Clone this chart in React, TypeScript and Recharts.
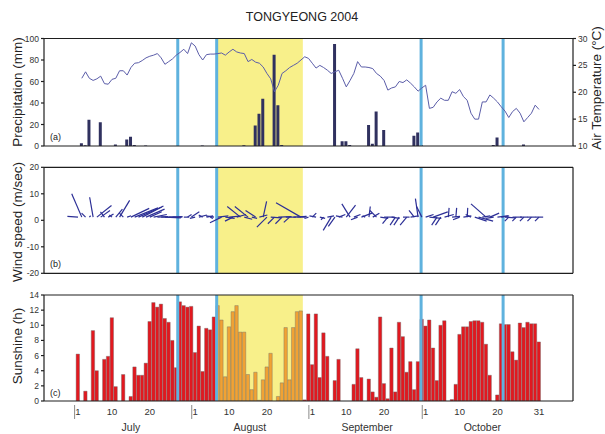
import React from 'react';
import { ComposedChart, Bar, Line, XAxis, YAxis, ReferenceArea, ReferenceLine, Cell } from 'recharts';

// ---- data (day index 0 = 1 July 2004) ----
const sunshine = [
  6.2, 0, 1.3, 0, 9.3, 4.0, 0, 5.5, 5.9, 11.0,
  1.9, 0, 3.5, 0, 0.6, 4.5, 3.4, 3.4, 5.0, 10.5,
  13.0, 12.4, 12.8, 10.9, 10.4, 8.0, 4.4, 13.1, 12.6, 12.4,
  12.5, 6.4, 9.9, 3.9, 9.6, 9.4, 11.1, 12.6, 10.7, 3.2,
  9.8, 11.8, 12.6, 9.1, 9.1, 3.5, 1.5, 3.8, 0.1, 2.8,
  4.5, 6.3, 0, 0.6, 2.4, 9.7, 2.8, 9.7, 11.8, 11.9,
  0.15, 11.5, 4.8, 11.5, 3.1, 9.0, 5.9, 0, 2.7, 5.5,
  0, 0, 0, 2.2, 6.9, 3.1, 0, 2.9, 1.2, 0.5,
  11.1, 2.3, 0.3, 7.0, 1.2, 10.4, 8.5, 3.8, 5.2, 1.5,
  5.2, 10.8, 9.9, 10.7, 7.0, 2.7, 10.0, 10.6, 0, 0.2,
  2.2, 8.8, 9.8, 9.8, 10.5, 10.6, 10.6, 10.4, 7.5, 3.4,
  0, 0.8, 10.2, 10.1, 10.1, 6.5, 5.4, 10.3, 9.7, 10.4,
  10.2, 10.2, 7.8,
];

const precipitation = [
  0, 2.5, 0.8, 24.5, 0, 0, 22, 0, 0, 0,
  1.5, 0, 0, 6, 8.5, 1, 0, 0, 0.5, 0,
  0, 0, 0, 0, 0, 0, 0, 0, 0, 0,
  0, 0, 0, 0.5, 0, 0, 0, 0, 0, 0,
  0, 0, 0, 0, 0.7, 0, 0, 19, 30, 44,
  0, 0, 85, 38, 1, 0, 0, 0, 0, 0,
  0, 0, 0, 0, 0, 0, 0, 0, 95, 0,
  4.5, 4.5, 1, 0, 0, 0, 0, 19.5, 2, 32,
  0, 15, 0, 0, 0, 0, 0, 0, 0, 9.5,
  12.5, 1, 0, 0, 0, 0, 0, 0, 0, 0,
  0, 0, 0, 0, 0, 0, 0, 0, 0, 0,
  1, 8, 0, 0, 0, 0, 0, 0, 1.5, 0,
  0, 0, 0,
];

const airTemperature: (number | null)[] = [
  null, 22.6, 23.8, 22.6, 22.2, 22.5, 23.0, 21.6, 21.5, 22.4,
  22.6, 24.0, 24.0, 23.2, 24.6, 25.4, 25.5, 25.9, 26.4, 26.7,
  26.9, 27.2, 26.4, 25.2, 25.7, 26.2, 26.9, 27.4, 28.0, 27.2,
  29.2, 28.6, 27.0, 26.0, 27.0, 27.1, 27.1, 27.2, 27.3, 26.9,
  27.5, 28.0, 27.5, 27.3, 27.2, 25.7, 26.1, 25.6, 25.4, 24.7,
  23.5, 22.5, 20.1, 21.3, 23.5, 24.0, 24.6, 25.0, 25.4, 26.0,
  26.6, 26.3, 25.4, 24.5, 25.0, 24.6, 24.1, 23.5, 23.8, 24.1,
  22.6, 21.0, 22.2, 23.5, 25.7, 24.7, 24.7, 24.6, 24.4, 23.5,
  23.0, 22.2, 20.4, 20.8, 21.0, 22.0, 21.8, 22.3, 21.7, 21.0,
  20.2, 20.8, 21.3, 17.0, 17.2, 18.2, 18.9, 18.5, 18.5, 20.1,
  19.8, 20.5, 19.2, 18.5, 16.1, 15.0, 15.0, 18.2, 18.2, 19.5,
  18.9, 18.2, 17.3, 16.5, 15.3, 16.4, 17.0, 16.1, 14.5, 15.3,
  16.1, 17.6, 16.8,
];

// wind vector components (m/s): u = east-west, v = north-south
const windU = [
  -4, -3.8, -1.5, 0.5, -1.3, 5.5, 3.5, -1.5, 2.0, -1.0,
  2.5, 3.8, -1.5, 1.5, 6.9, 8.8, 8.8, 8.0, 7.0, 4.5,
  5.0, 4.0, 5.5, 6.0, 3.0, 3.5, 2.0, 1.0, 2.0, 1.5,
  3.0, -2.0, 3.0, -1.5, 2.5, 1.0, -3.0, 4.0, -4.4, 3.5,
  4.0, -3.0, 3.5, -5.0, 3.0, -5.0, 2.0, -3.8, 3.0, 1.3,
  -3.8, 4.0, -2.5, 5.0, -2.5, 4.0, -2.2, 5.0, 3.0, -9.4,
  0.5, -1.5, 1.5, -2.5, 2.0, -1.0, 2.5, -3.0, -2.5, 2.5,
  -2.5, 3.5, -3.1, 2.5, -2.5, 4.0, -1.0, 0.5, 2.5, -2.5,
  3.0, 4.0, -2.0, 3.0, -2.0, -2.0, 2.5, -2.5, 3.0, -2.0,
  -1.0, -2.0, 3.0, 4.5, 5.5, -2.0, -2.0, 3.5, 0.3, 3.0,
  0.3, -2.5, 3.0, 0.2, -2.0, 4.5, 5.5, 3.0, -5.7, 3.5,
  -3.0, 4.0, 3.0, 4.0, -1.5, 3.5, -1.5, 3.0, -1.5, 3.0,
  -1.5, 3.0, -1.5,
];
const windV = [
  0.3, 8.8, 1.5, 0.5, 7.5, 4.4, 2.5, 2.0, 1.2, 0.8,
  3.0, 6.3, 1.5, 0.5, 3.3, 3.5, 3.8, 4.2, 3.0, 2.0,
  1.0, 0.2, 0.0, -0.3, 0.0, 0.2, 0.0, 0.2, 0.0, 1.0,
  2.0, -0.5, 0.8, 0.8, 0.5, -0.5, 0.5, 0.5, -2.1, -0.5,
  0.4, -1.5, 1.0, 4.0, -0.8, 4.0, -0.5, 2.5, 0.8, 5.9,
  -3.8, -0.3, -2.5, 0.2, -2.5, 0.0, -2.0, 0.3, 0.0, 5.4,
  0.3, -0.5, 1.5, 0.5, -0.5, -1.0, 0.5, -5.0, -3.5, 1.0,
  0.5, 4.5, 5.0, 1.0, -1.0, 1.5, 0.5, 4.0, 1.5, 2.5,
  -0.5, 0.0, -2.5, -0.5, -3.0, -3.0, 0.0, -3.0, 0.5, 2.5,
  7.0, 4.0, 1.0, -0.5, 2.0, -3.0, -3.0, 1.0, 3.5, 0.3,
  3.5, -1.0, 0.5, 3.5, 1.0, -1.5, -1.5, 0.5, 5.0, 1.5,
  -0.5, 0.5, 0.5, -0.3, -1.5, 0.0, -1.5, 0.0, -1.5, 0.0,
  -1.5, 0.0, -1.5,
];
const WIND_BASE = 1.2;

const eventDays = [26.4, 36.7, 90.8, 112.5];
const highlightRange: [number, number] = [36.7, 59.5];

const dayTicks = [0, 9, 19, 31, 40, 50, 62, 71, 81, 92, 101, 111, 122];
const dayTickLabels = ['1', '10', '20', '1', '10', '20', '1', '10', '20', '1', '10', '20', '31'];
const monthSeparators = [-0.9, 30.1, 61.1, 91.1];
const monthCenters = [14, 45.5, 76.5, 107];
const monthNames = ['July', 'August', 'September', 'October'];
const frameTicks = [11, 31, 51, 71, 91, 111];

const precipTicks = [0, 20, 40, 60, 80, 100];
const tempTicks = [10, 15, 20, 25, 30];
const windTicks = [-20, -10, 0, 10, 20];
const sunTicks = [0, 2, 4, 6, 8, 10, 12, 14];

// ---- layout / style ----
const FONT = '"Liberation Sans", Arial, Helvetica, sans-serif';
const DAY_DOMAIN: [number, number] = [-9, 131];
const W = 605;
const LEFT_W = 44;
const RIGHT_W = 32;
const PLOT_W = W - LEFT_W - RIGHT_W;
const AXIS_COLOR = '#1e1e1e';
const BLUE = '#5fb2de';
const YELLOW = '#f8f08a';
const RED = '#e2181f';
const ORANGE = '#f1a234';
const NAVY = '#30315f';
const TEMP_COLOR = '#5b5da8';
const WIND_COLOR = '#2c2f96';
const tickStyle = { fontSize: 8.5, fill: '#333', fontFamily: FONT };

const rows = sunshine.map((s, d) => ({
  d,
  sun: s,
  rain: precipitation[d],
  temp: airTemperature[d],
}));

const inHighlight = (d: number) => d >= highlightRange[0] && d <= highlightRange[1];

function frameXAxes() {
  return [
    <XAxis key="xb" dataKey="d" type="number" domain={DAY_DOMAIN} allowDataOverflow ticks={frameTicks}
      interval={0} tick={false} tickSize={-3} height={1} stroke={AXIS_COLOR} strokeWidth={1.2} />,
    <XAxis key="xt" xAxisId="top" orientation="top" type="number" domain={DAY_DOMAIN} allowDataOverflow
      ticks={frameTicks} interval={0} tick={false} tickSize={-3} height={1} stroke={AXIS_COLOR} strokeWidth={1.2} />,
  ];
}

function highlights() {
  return [
    <ReferenceArea key="hl" yAxisId="left" x1={highlightRange[0]} x2={highlightRange[1]} fill={YELLOW}
      fillOpacity={1} stroke="none" />,
    ...eventDays.map((d) => (
      <ReferenceLine key={'ev' + d} yAxisId="left" x={d} stroke={BLUE} strokeWidth={3} />
    )),
  ];
}

function BottomTick(props: any) {
  const { x, y, payload } = props;
  const v = payload.value;
  const i = dayTicks.indexOf(v);
  if (i >= 0) {
    return (
      <text x={x} y={y + 13} textAnchor="middle" fontSize={9.5} fill="#333" fontFamily={FONT}>
        {dayTickLabels[i]}
      </text>
    );
  }
  const m = monthCenters.indexOf(v);
  if (m >= 0) {
    return (
      <text x={x} y={y + 29} textAnchor="middle" fontSize={10.5} fill="#333" fontFamily={FONT}>
        {monthNames[m]}
      </text>
    );
  }
  return <line x1={x} x2={x} y1={y + 3} y2={y + 17} stroke="#8a8a8a" strokeWidth={1} />;
}

const bottomTickValues = [...monthSeparators, ...dayTicks, ...monthCenters].sort((a, b) => a - b);

function PanelA() {
  return (
    <ComposedChart width={W} height={160} data={rows} margin={{ top: 37.5, right: 0, bottom: 13, left: 0 }}>
      {frameXAxes()}
      <YAxis yAxisId="left" type="number" domain={[0, 100]} allowDataOverflow ticks={precipTicks} interval={0}
        width={LEFT_W} tickSize={3} tickMargin={2} stroke={AXIS_COLOR} strokeWidth={1.2} tick={tickStyle} />
      <YAxis yAxisId="right" orientation="right" type="number" domain={[10, 30]} allowDataOverflow
        ticks={tempTicks} interval={0} width={RIGHT_W} tickSize={3} tickMargin={2} stroke={AXIS_COLOR}
        strokeWidth={1.2} tick={tickStyle} />
      {highlights()}
      <Bar yAxisId="left" dataKey="rain" fill={NAVY} barSize={3} isAnimationActive={false} />
      <Line yAxisId="right" dataKey="temp" stroke={TEMP_COLOR} strokeWidth={1} dot={false}
        isAnimationActive={false} />
    </ComposedChart>
  );
}

function PanelB() {
  const plotH = 106;
  // same visual scale for u (horizontal) and v (vertical)
  const k = (plotH / 40) / (PLOT_W / (DAY_DOMAIN[1] - DAY_DOMAIN[0]));
  return (
    <ComposedChart width={W} height={120} data={rows} margin={{ top: 6.3, right: 0, bottom: 120 - 6.3 - 2 - plotH, left: 0 }}>
      {frameXAxes()}
      <YAxis yAxisId="left" type="number" domain={[-20, 20]} allowDataOverflow ticks={windTicks} interval={0}
        width={LEFT_W} tickSize={3} tickMargin={2} stroke={AXIS_COLOR} strokeWidth={1.2} tick={tickStyle} />
      <YAxis yAxisId="right" orientation="right" type="number" domain={[-20, 20]} allowDataOverflow
        ticks={windTicks} interval={0} width={RIGHT_W} tickSize={-3} tick={false} stroke={AXIS_COLOR}
        strokeWidth={1.2} />
      {highlights()}
      {windU.map((u, d) => (
        <ReferenceLine key={'w' + d} yAxisId="left" ifOverflow="visible"
          segment={[{ x: d, y: WIND_BASE }, { x: d + u * k, y: WIND_BASE + windV[d] }]}
          stroke={WIND_COLOR} strokeWidth={1.2} />
      ))}
      <Line yAxisId="left" dataKey="none" stroke="none" dot={false} isAnimationActive={false} />
    </ComposedChart>
  );
}

function PanelC() {
  return (
    <ComposedChart width={W} height={154} data={rows} margin={{ top: 14, right: 0, bottom: 31, left: 0 }}>
      {frameXAxes()}
      <XAxis xAxisId="labels" dataKey="d" type="number" domain={DAY_DOMAIN} allowDataOverflow
        ticks={bottomTickValues} interval={0} height={1} axisLine={false} tickLine={false} tickSize={0}
        tickMargin={0} tick={<BottomTick />} />
      <YAxis yAxisId="left" type="number" domain={[0, 14]} allowDataOverflow ticks={sunTicks} interval={0}
        width={LEFT_W} tickSize={3} tickMargin={2} stroke={AXIS_COLOR} strokeWidth={1.2} tick={tickStyle} />
      <YAxis yAxisId="right" orientation="right" type="number" domain={[0, 14]} allowDataOverflow
        ticks={sunTicks} interval={0} width={RIGHT_W} tickSize={-3} tick={false} stroke={AXIS_COLOR}
        strokeWidth={1.2} />
      {highlights()}
      <Bar yAxisId="left" dataKey="sun" barSize={3.78} stroke="#6a6a6a" strokeWidth={0.4} isAnimationActive={false}>
        {rows.map((r) => (
          <Cell key={r.d} fill={inHighlight(r.d) ? ORANGE : RED} />
        ))}
      </Bar>
    </ComposedChart>
  );
}

export default function App() {
  const titleStyle = { fontFamily: FONT, fill: '#222' };
  return (
    <div style={{ position: 'absolute', left: 0, top: 0, width: W, height: 434, background: '#fff', overflow: 'hidden' }}>
      <div style={{ position: 'absolute', left: 0, top: 0 }}><PanelA /></div>
      <div style={{ position: 'absolute', left: 0, top: 160 }}><PanelB /></div>
      <div style={{ position: 'absolute', left: 0, top: 280 }}><PanelC /></div>
      <svg width={W} height={434} style={{ position: 'absolute', left: 0, top: 0, pointerEvents: 'none' }}>
        <text x={302} y={21} textAnchor="middle" fontSize={12.5} {...titleStyle}>TONGYEONG 2004</text>
        <text transform="translate(22,92) rotate(-90)" textAnchor="middle" fontSize={13.5} {...titleStyle}>Precipitation (mm)</text>
        <text transform="translate(22,222) rotate(-90)" textAnchor="middle" fontSize={13.5} {...titleStyle}>Wind speed (m/sec)</text>
        <text transform="translate(22,346) rotate(-90)" textAnchor="middle" fontSize={13.5} {...titleStyle}>Sunshine (h)</text>
        <text transform="translate(601,88) rotate(-90)" textAnchor="middle" fontSize={13.5} {...titleStyle}>Air Temperature (°C)</text>
        <text x={50} y={140} fontSize={9} {...titleStyle}>(a)</text>
        <text x={50} y={267} fontSize={9} {...titleStyle}>(b)</text>
        <text x={50} y={396} fontSize={9} {...titleStyle}>(c)</text>
      </svg>
    </div>
  );
}
